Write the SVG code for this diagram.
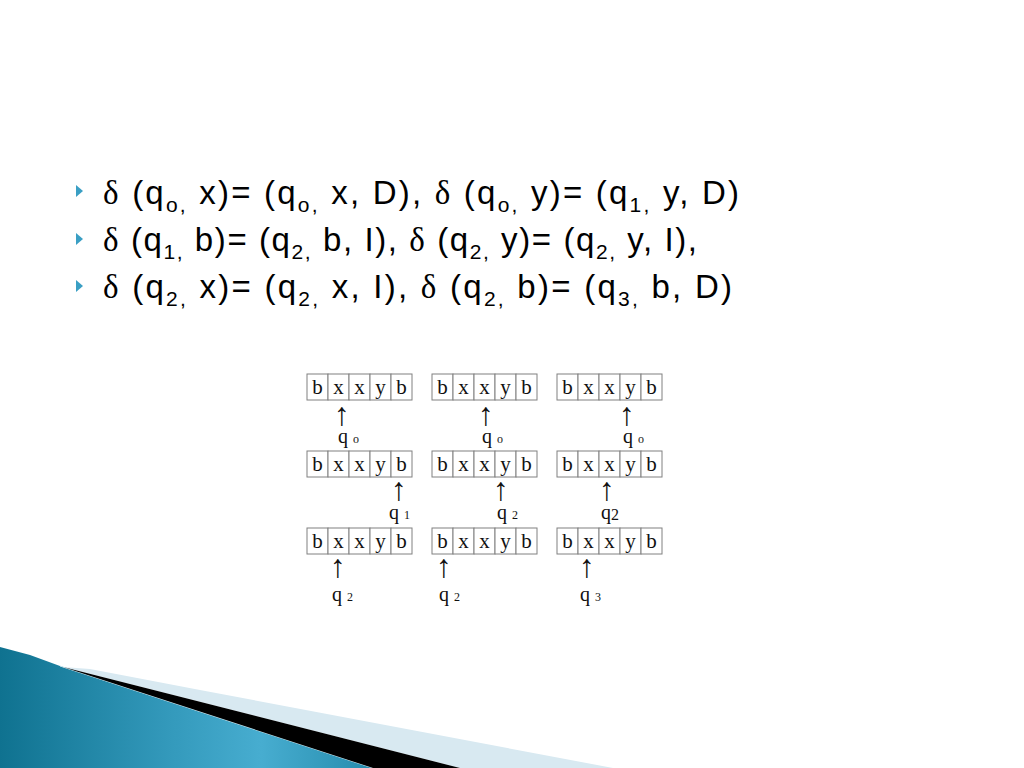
<svg xmlns="http://www.w3.org/2000/svg" width="1024" height="768" viewBox="0 0 1024 768">
<defs>
<style>
.line{font-family:"Liberation Sans",Arial,sans-serif;font-size:33px;fill:#000}
.d{font-family:"Liberation Serif","Times New Roman",serif}
.sub{font-size:21px}
.cell{fill:#fff;stroke:#808080;stroke-width:1}
.t{font-family:"Liberation Serif","Times New Roman",serif;font-size:21px;fill:#111;text-anchor:middle}
.q{font-family:"Liberation Serif","Times New Roman",serif;font-size:20px;fill:#111}
.s{font-size:12px}
.ar{font-family:"Liberation Serif","DejaVu Serif",serif;font-size:32px;fill:#111;text-anchor:middle}
.bul{fill:#3a9fc4}
</style>
<linearGradient id="teal" x1="0" y1="0" x2="1" y2="0">
<stop offset="0" stop-color="#0f7290"/>
<stop offset="0.45" stop-color="#3399bb"/>
<stop offset="0.7" stop-color="#47add0"/>
<stop offset="1" stop-color="#268cad"/>
</linearGradient>
<g id="tape">
<rect class="cell" x="0" y="0" width="21" height="26"/>
<rect class="cell" x="21" y="0" width="21" height="26"/>
<rect class="cell" x="42" y="0" width="21" height="26"/>
<rect class="cell" x="63" y="0" width="21" height="26"/>
<rect class="cell" x="84" y="0" width="21" height="26"/>
<text class="t" x="10.5" y="20">b</text>
<text class="t" x="31.5" y="20">x</text>
<text class="t" x="52.5" y="20">x</text>
<text class="t" x="73.5" y="20">y</text>
<text class="t" x="94.5" y="20">b</text>
</g>
</defs>
<rect width="1024" height="768" fill="#fff"/>

<g id="bottom-decoration">
<polygon points="0,647 30,655 60,666 373,768 0,768" fill="url(#teal)"/>
<line x1="60" y1="666" x2="373" y2="768" stroke="#cfe8f0" stroke-width="1"/>
<polygon points="90,669 200,690 613,768 460,768 63,667" fill="#d8e9f1"/>
<polygon points="45,661 63,667 460,768 373,768 60,666" fill="#000"/>
</g>

<g id="bullets">
<polygon class="bul" points="76,185 83,191 76,197"/>
<polygon class="bul" points="76,233 83,239 76,245"/>
<polygon class="bul" points="76,280 83,286 76,292"/>
</g>

<g id="equations">
<text class="line" x="103" y="204" textLength="636" lengthAdjust="spacing"><tspan class="d">δ</tspan> (q<tspan class="sub" dy="8">o,</tspan><tspan dy="-8"> x)= (q</tspan><tspan class="sub" dy="8">o,</tspan><tspan dy="-8"> x, D), </tspan><tspan class="d">δ</tspan> (q<tspan class="sub" dy="8">o,</tspan><tspan dy="-8"> y)= (q</tspan><tspan class="sub" dy="8">1,</tspan><tspan dy="-8"> y, D)</tspan></text>
<text class="line" x="103" y="251" textLength="594" lengthAdjust="spacing"><tspan class="d">δ</tspan> (q<tspan class="sub" dy="8">1,</tspan><tspan dy="-8"> b)= (q</tspan><tspan class="sub" dy="8">2,</tspan><tspan dy="-8"> b, I), </tspan><tspan class="d">δ</tspan> (q<tspan class="sub" dy="8">2,</tspan><tspan dy="-8"> y)= (q</tspan><tspan class="sub" dy="8">2,</tspan><tspan dy="-8"> y, I),</tspan></text>
<text class="line" x="103" y="298" textLength="629" lengthAdjust="spacing"><tspan class="d">δ</tspan> (q<tspan class="sub" dy="8">2,</tspan><tspan dy="-8"> x)= (q</tspan><tspan class="sub" dy="8">2,</tspan><tspan dy="-8"> x, I), </tspan><tspan class="d">δ</tspan> (q<tspan class="sub" dy="8">2,</tspan><tspan dy="-8"> b)= (q</tspan><tspan class="sub" dy="8">3,</tspan><tspan dy="-8"> b, D)</tspan></text>
</g>

<g id="tapes">
<use href="#tape" x="307" y="374"/>
<use href="#tape" x="432" y="374"/>
<use href="#tape" x="557" y="374"/>
<use href="#tape" x="307" y="451"/>
<use href="#tape" x="432" y="451"/>
<use href="#tape" x="557" y="451"/>
<use href="#tape" x="307" y="528"/>
<use href="#tape" x="432" y="528"/>
<use href="#tape" x="557" y="528"/>
</g>

<g id="heads">
<text class="ar" x="342" y="425">↑</text>
<text class="ar" x="486" y="425">↑</text>
<text class="ar" x="627" y="425">↑</text>
<text class="ar" x="399" y="500">↑</text>
<text class="ar" x="501" y="500">↑</text>
<text class="ar" x="607" y="500">↑</text>
<text class="ar" x="338" y="577">↑</text>
<text class="ar" x="444" y="577">↑</text>
<text class="ar" x="587" y="577">↑</text>
</g>

<g id="states">
<text class="q" x="338" y="443">q <tspan class="s">o</tspan></text>
<text class="q" x="482" y="443">q <tspan class="s">o</tspan></text>
<text class="q" x="623" y="443">q <tspan class="s">o</tspan></text>
<text class="q" x="389" y="519">q <tspan class="s">1</tspan></text>
<text class="q" x="497" y="519">q <tspan class="s">2</tspan></text>
<text class="q" x="601" y="519">q<tspan font-size="16px" dy="1">2</tspan></text>
<text class="q" x="332" y="601">q <tspan class="s">2</tspan></text>
<text class="q" x="439" y="601">q <tspan class="s">2</tspan></text>
<text class="q" x="580" y="601">q <tspan class="s">3</tspan></text>
</g>
</svg>
